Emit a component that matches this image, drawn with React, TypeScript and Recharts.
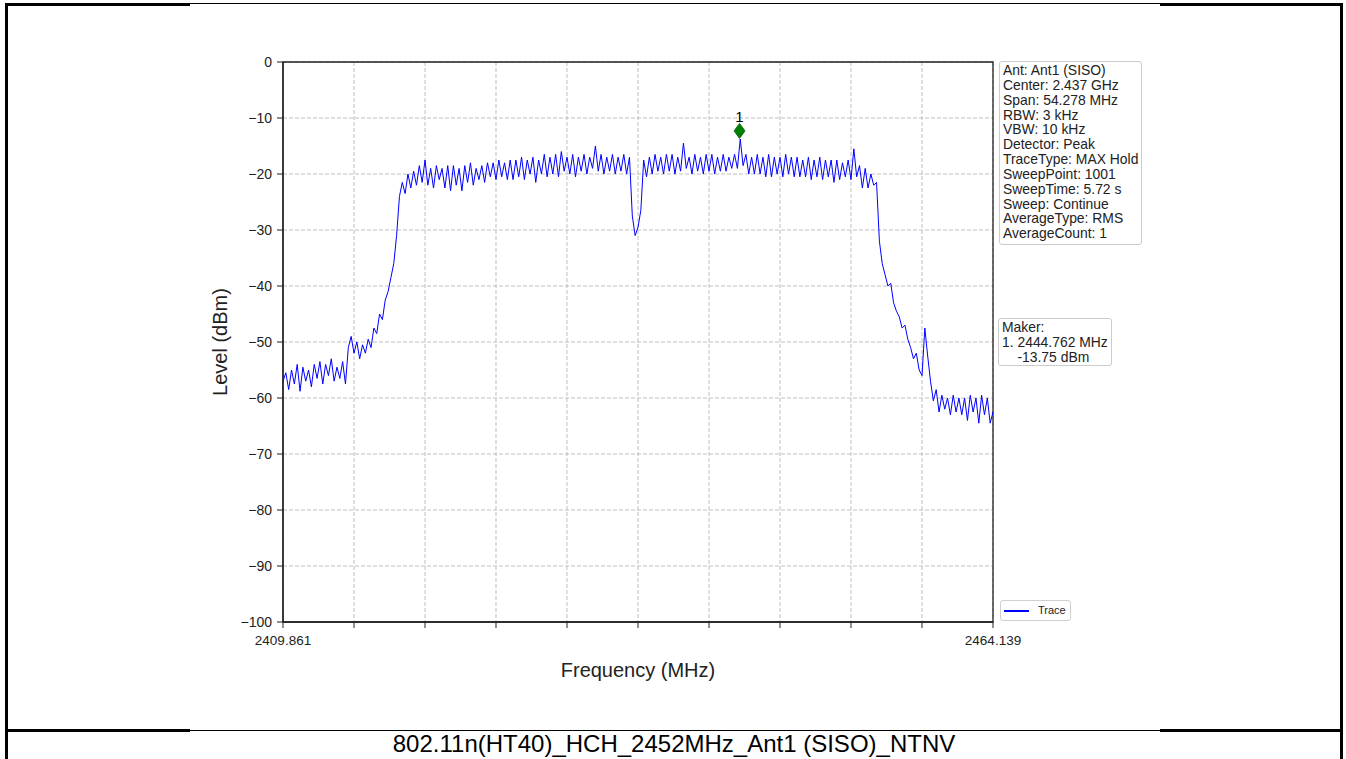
import React from 'react';
import { LineChart, Line, XAxis, YAxis, CartesianGrid, ReferenceArea, ReferenceDot, Legend } from 'recharts';

// sweep: 2409.861 .. 2464.139 MHz, every 4th of the 1001 sweep points
const sweepStartMHz = 2409.861;
const sweepStepMHz = 0.217112;

const levelsDbm = [
  -57, -55.5, -58.5, -55, -57.5, -54, -58.8, -54.5, -57, -55,
  -58, -54, -56.5, -53.5, -57.5, -54, -56, -53, -57, -54.5,
  -56.5, -53.5, -57.5, -51, -49, -52, -50, -53, -50.5, -52,
  -49.5, -51, -47.5, -48.5, -45, -46, -42.5, -41, -38.5, -36,
  -31, -24, -21.5, -23.5, -20, -22.5, -19.5, -22, -18.5, -21.5,
  -17.5, -22, -19, -22.5, -18.5, -21, -19, -22.5, -18.5, -23,
  -18.5, -22, -19, -23, -18.5, -21.5, -18, -22, -19, -21,
  -18.5, -21.5, -18, -20.5, -18, -21, -17.5, -20.5, -18, -21,
  -17.5, -21, -17.5, -20.5, -17, -21, -17.5, -20, -17, -21.5,
  -17.5, -20, -16.5, -20.5, -17, -20, -16.5, -20.5, -16, -19.5,
  -17, -20, -16.5, -20.5, -17, -19.5, -16.5, -20, -17, -19,
  -15, -19.5, -16.5, -20, -17, -19.5, -16.5, -20, -17, -19.5,
  -16.5, -20, -17, -27.5, -31, -29.5, -26.5, -17.5, -20.5, -17,
  -20, -16.5, -19.5, -17, -20, -16.5, -19.5, -16.5, -20, -17,
  -19.5, -14.5, -19, -17, -20, -16.5, -19.5, -17, -20, -16.5,
  -19.5, -16.5, -20, -17, -19.5, -16.5, -19.5, -17, -19, -16.5,
  -19, -13.75, -18.5, -16.5, -20, -17, -20, -16.5, -20, -17,
  -20.5, -16.5, -20.5, -17, -20, -17, -20.5, -16.5, -20, -17,
  -20.5, -17, -20.5, -17.5, -20.5, -17, -21, -17.5, -20.5, -17,
  -21, -17.5, -20.5, -17.5, -21.5, -17.5, -21, -18, -20.5, -17.5,
  -21, -15.5, -20.5, -18.5, -22.5, -19, -22.5, -20, -22, -21.5,
  -32, -36, -38, -40, -39.5, -43, -44.5, -45.5, -47.5, -47,
  -49.5, -51, -53, -52, -55, -56, -47.5, -52.5, -57, -60.5,
  -58.5, -62.5, -59.5, -62, -60, -63, -59.5, -62.5, -60, -63,
  -60, -64, -59.5, -62.5, -60, -64.5, -59.5, -63, -60, -64.5,
  -62.5,
];

const xTicks = [2409.861, 2415.289, 2420.717, 2426.144, 2431.572, 2437.0, 2442.428, 2447.856, 2453.283, 2458.711, 2464.139];
const xTickLabels = ['2409.861', '', '', '', '', '', '', '', '', '', '2464.139'];
const yTicks = [0, -10, -20, -30, -40, -50, -60, -70, -80, -90, -100];

const markerFreqMHz = 2444.762;
const markerLevelDbm = -13.75;
const markerSymbolLevel = -12.3; // diamond is drawn a bit above the trace

const infoLines = [
  'Ant: Ant1 (SISO)',
  'Center: 2.437 GHz',
  'Span: 54.278 MHz',
  'RBW: 3 kHz',
  'VBW: 10 kHz',
  'Detector: Peak',
  'TraceType: MAX Hold',
  'SweepPoint: 1001',
  'SweepTime: 5.72 s',
  'Sweep: Continue',
  'AverageType: RMS',
  'AverageCount: 1',
];
const makerLines = ['Maker:', `1. ${markerFreqMHz.toFixed(3)} MHz`, `    ${markerLevelDbm.toFixed(2)} dBm`];

const caption = '802.11n(HT40)_HCH_2452MHz_Ant1 (SISO)_NTNV';

const chartData = levelsDbm.map((level, i) => ({ freq: sweepStartMHz + i * sweepStepMHz, level }));

const FONT = '"Liberation Sans", Arial, sans-serif';

const fmtY = (v: number) => (v < 0 ? '\u2212' + Math.abs(v) : String(v));

const Diamond = (props: any) => {
  const { cx, cy } = props;
  if (cx == null || cy == null) return null;
  return (
    <g>
      <polygon
        points={`${cx},${cy - 7.5} ${cx + 5.5},${cy} ${cx},${cy + 7.5} ${cx - 5.5},${cy}`}
        fill="#008000"
        stroke="#006400"
        strokeWidth={0.8}
      />
      <text x={cx} y={cy - 9} textAnchor="middle" fontSize={15} fontFamily={FONT} fill="#000">1</text>
    </g>
  );
};

const TraceLegend = () => (
  <div style={{
    width: 71, height: 21, border: '1px solid #d0d0d0', borderRadius: 3, background: '#fff',
    position: 'relative', fontFamily: FONT, fontSize: 11, boxSizing: 'border-box',
  }}>
    <div style={{ position: 'absolute', left: 3, top: 9, width: 25, height: 1.5, background: '#0000ff' }} />
    <div style={{ position: 'absolute', left: 37, top: 2, lineHeight: '14px', color: '#222' }}>Trace</div>
  </div>
);

const boxStyle: React.CSSProperties = {
  position: 'absolute', border: '1px solid #cccccc', borderRadius: 3, background: '#fff',
  fontFamily: FONT, fontSize: 13.9, lineHeight: '14.85px', color: '#222', whiteSpace: 'pre',
  boxSizing: 'border-box', padding: '1px 3px',
};

const line = (left: number, top: number, width: number, height: number) => (
  <div style={{ position: 'absolute', left, top, width, height, background: '#000' }} />
);

export default function App() {
  return (
    <div style={{ position: 'absolute', left: 0, top: 0, width: 1346, height: 759, background: '#fff', overflow: 'hidden', fontFamily: FONT }}>
      <LineChart width={1346} height={730} data={chartData} margin={{ top: 62, right: 353, left: 213, bottom: 50 }}>
        <CartesianGrid stroke="#b0b0b0" strokeDasharray="4 2" strokeWidth={0.8} />
        <XAxis
          dataKey="freq"
          type="number"
          domain={[sweepStartMHz, 2464.139]}
          ticks={xTicks}
          tickFormatter={(_v: number, i: number) => xTickLabels[i] ?? ''}
          interval={0}
          height={58}
          tickSize={6}
          tickMargin={7}
          axisLine={{ stroke: '#222', strokeWidth: 1.3 }}
          tickLine={{ stroke: '#222', strokeWidth: 1 }}
          tick={{ fill: '#222', fontSize: 13.5, fontFamily: FONT }}
          label={{ value: 'Frequency (MHz)', position: 'insideBottom', offset: 3, fill: '#222', fontSize: 20, fontFamily: FONT }}
        />
        <YAxis
          type="number"
          domain={[-100, 0]}
          ticks={yTicks}
          tickFormatter={fmtY}
          interval={0}
          width={70}
          tickSize={6}
          tickMargin={5}
          axisLine={{ stroke: '#222', strokeWidth: 1.3 }}
          tickLine={{ stroke: '#222', strokeWidth: 1 }}
          tick={{ fill: '#222', fontSize: 14, fontFamily: FONT }}
          label={{ value: 'Level (dBm)', angle: -90, position: 'insideLeft', offset: 7, fill: '#222', fontSize: 20, fontFamily: FONT, style: { textAnchor: 'middle' } }}
        />
        <ReferenceArea x1={sweepStartMHz} x2={2464.139} y1={-100} y2={0} fill="none" stroke="#222" strokeWidth={1.3} />
        <Line type="linear" dataKey="level" stroke="#0000ff" strokeWidth={1} dot={false} isAnimationActive={false} name="Trace" />
        <ReferenceDot x={markerFreqMHz} y={markerSymbolLevel} shape={Diamond} />
        <Legend layout="horizontal" verticalAlign="middle" align="center" content={<TraceLegend />}
          wrapperStyle={{ left: 1000, top: 600, width: 72, height: 22 }} />
      </LineChart>

      <div style={{ ...boxStyle, left: 999, top: 61, width: 143, height: 184 }}>
        {infoLines.join('\n')}
      </div>
      <div style={{ ...boxStyle, left: 998, top: 318, width: 114, height: 48 }}>
        {makerLines.join('\n')}
      </div>

      {/* table frame */}
      {line(5, 3, 185, 3)}
      {line(190, 3, 970, 1)}
      {line(1160, 3, 183, 3)}
      {line(5, 3, 3, 756)}
      {line(1340, 3, 3, 756)}
      {line(5, 729, 185, 3)}
      {line(190, 730, 970, 1)}
      {line(1160, 729, 183, 3)}
      <div style={{ position: 'absolute', left: 8, width: 1332, top: 730, textAlign: 'center', fontSize: 24, lineHeight: '28px', color: '#000' }}>
        {caption}
      </div>
    </div>
  );
}
